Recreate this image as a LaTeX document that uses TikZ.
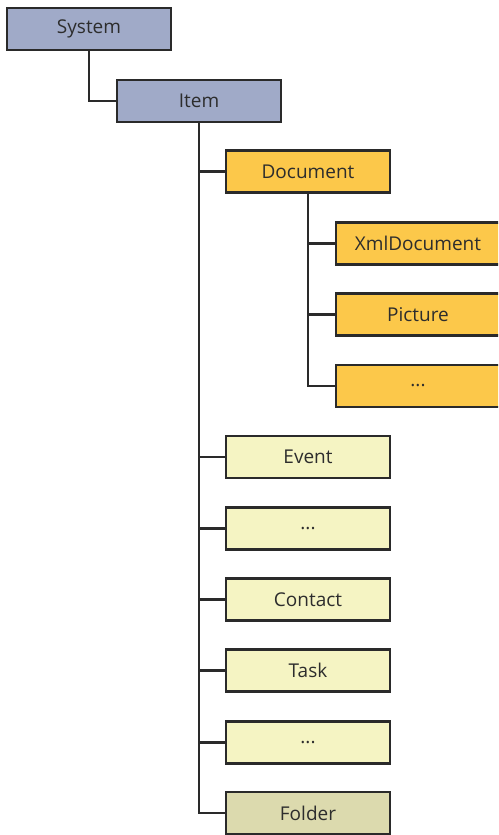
\documentclass[tikz,border=0pt]{standalone}
\usepackage{fontspec}
\setmainfont{Open Sans}
\definecolor{sysblue}{RGB}{160,170,200}
\definecolor{docorange}{RGB}{252,200,74}
\definecolor{itemyellow}{RGB}{245,244,195}
\definecolor{folderkhaki}{RGB}{220,218,174}
\definecolor{edgegray}{RGB}{42,42,42}
\definecolor{textgray}{RGB}{45,45,45}
\begin{document}
\begin{tikzpicture}[x=1pt,y=-1pt,
  box/.style={draw=edgegray,line width=2.8pt,minimum width=164pt,minimum height=42pt,inner sep=0pt,
    font=\fontsize{19}{22}\selectfont,text=textgray},
  sysbox/.style={box,fill=sysblue},
  docbox/.style={box,fill=docorange},
  itembox/.style={box,fill=itemyellow},
  folderbox/.style={box,fill=folderkhaki},
  link/.style={draw=edgegray,line width=2.8pt}]
\useasboundingbox (0,0) rectangle (498,835);
\clip (0,0) rectangle (498,835);
\node[sysbox] (system) at (89,29) {System};
\node[sysbox] (item) at (199,101) {Item};
\node[docbox] (document) at (308,171.5) {Document};
\node[docbox] (xml) at (418,243.5) {XmlDocument};
\node[docbox] (picture) at (418,314.5) {Picture};
\node[docbox] (docmore) at (418,386) {...};
\node[itembox] (event) at (308,457) {Event};
\node[itembox] (more1) at (308,528.5) {...};
\node[itembox] (contact) at (308,599.5) {Contact};
\node[itembox] (task) at (308,670.5) {Task};
\node[itembox] (more2) at (308,742.5) {...};
\node[folderbox] (folder) at (308,813) {Folder};
\draw[link] (system.south) |- (item.west);
\draw[link] (item.south) |- (folder.west);
\foreach \n in {document,event,more1,contact,task,more2}
  \draw[link] (item.south |- \n.west) -- (\n.west);
\draw[link] (document.south) |- (docmore.west);
\foreach \n in {xml,picture}
  \draw[link] (document.south |- \n.west) -- (\n.west);
\end{tikzpicture}
\end{document}
